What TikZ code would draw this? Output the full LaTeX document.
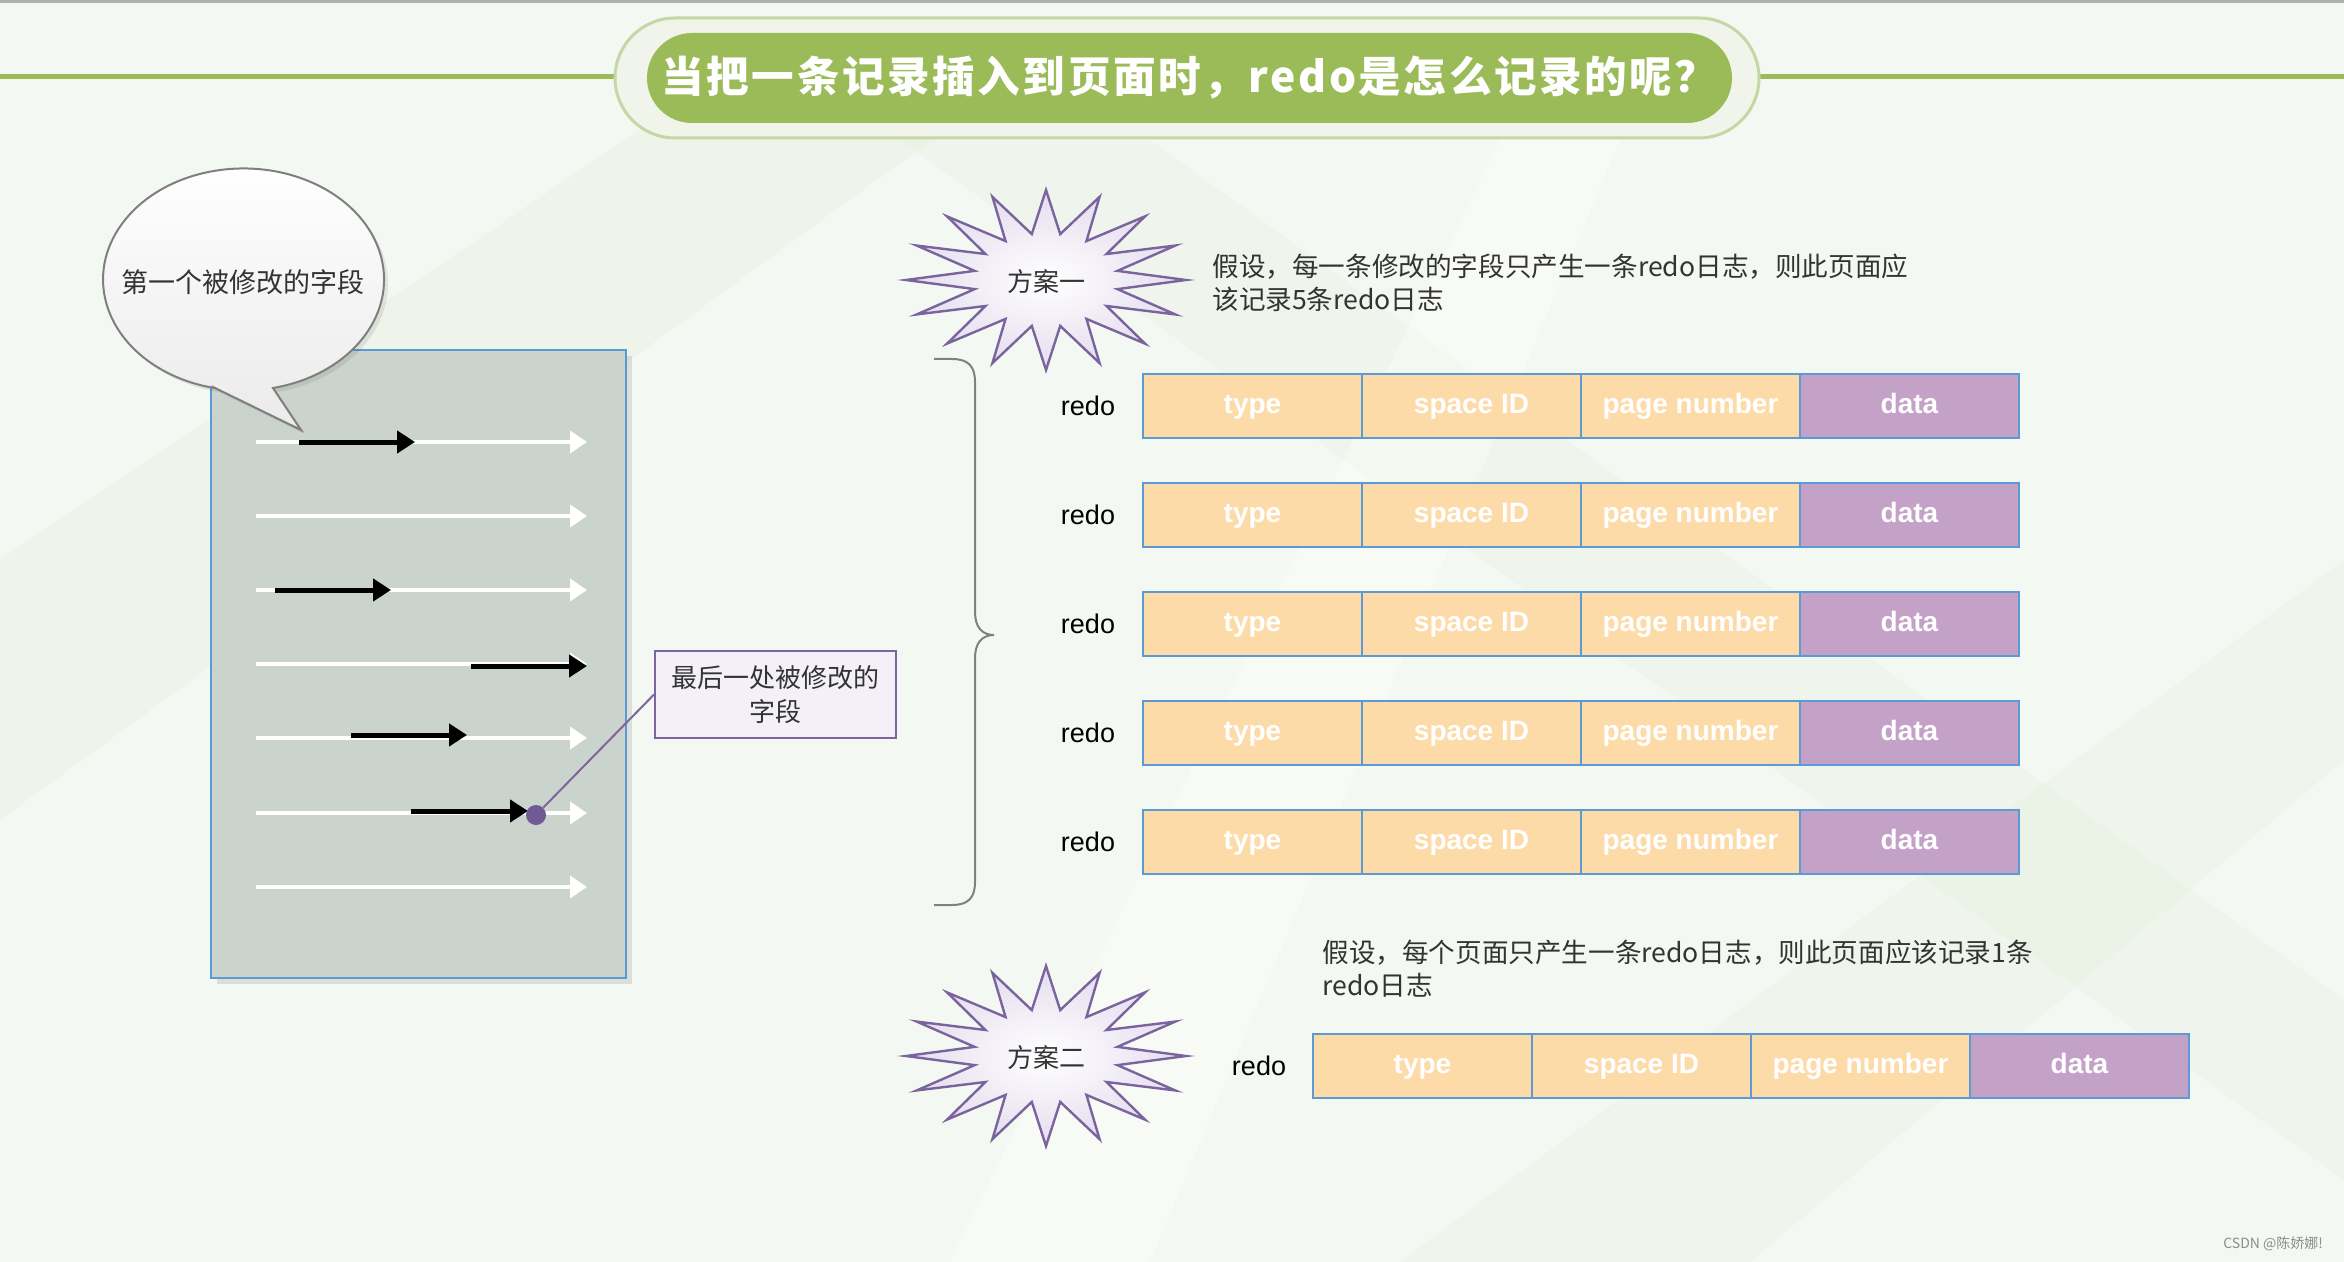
\documentclass[tikz,border=0pt]{standalone}
\usepackage{fontspec}
\setmainfont{Liberation Sans}
\newfontfamily\cjk{Noto Sans CJK SC}
\newfontfamily\cjktitle[LetterSpace=6]{Noto Sans CJK SC}
\usetikzlibrary{arrows.meta}
\definecolor{bgc}{HTML}{F4F8F2}
\definecolor{streakc}{HTML}{E4EEDD}
\definecolor{titlegreen}{HTML}{9BBB59}
\definecolor{capfill}{HTML}{F1F4EA}
\definecolor{capline}{HTML}{C4D7A4}
\definecolor{pagefill}{HTML}{CAD4CC}
\definecolor{cellblue}{HTML}{5B9BD5}
\definecolor{cellorange}{HTML}{FDDBA9}
\definecolor{cellpurple}{HTML}{C4A2C7}
\definecolor{starline}{HTML}{7B649E}
\definecolor{starfill}{HTML}{E4DDEE}
\definecolor{calloutfill}{HTML}{F3F0F7}
\definecolor{calloutline}{HTML}{8064A2}
\definecolor{dotc}{HTML}{6F5A94}
\definecolor{bubbleline}{HTML}{7F7F7F}
\definecolor{textc}{HTML}{333333}
\definecolor{bracec}{HTML}{808080}
\definecolor{topgray}{HTML}{B0B0B0}
\begin{document}
\begin{tikzpicture}[x=0.5pt,y=-0.5pt,
  cjktext/.style={font=\cjk\fontsize{13}{16.5}\selectfont, text=textc},
  desctext/.style={font=\cjk\fontsize{13.3}{16.5}\selectfont, text=textc},
  cell/.style={draw=cellblue, line width=1.4pt, minimum width=109.5pt, minimum height=32pt,
    inner sep=0pt, outer sep=0pt, text=white, text height=10pt, text depth=2.5pt,
    font=\bfseries\fontsize{14}{16}\selectfont, anchor=west},
  ocell/.style={cell, fill=cellorange},
  pcell/.style={cell, fill=cellpurple},
  redolab/.style={font=\fontsize{13.5}{16}\selectfont, text=black},
  whitearrow/.style={draw=white, line width=2pt, -{Triangle[width=11pt,length=8.5pt]}},
  blackarrow/.style={draw=black, line width=2.5pt, -{Triangle[width=11pt,length=9pt]}},
  starshape/.style={draw=starline, line width=1.2pt, inner color=white, outer color=starfill},
  callout/.style={draw=calloutline, line width=1pt, fill=calloutfill, minimum width=120.5pt,
    minimum height=43.5pt, align=center, font=\cjk\fontsize{13}{17}\selectfont, text=textc, inner sep=2pt}
]
\useasboundingbox (0,0) rectangle (2344,1262);
% background
\fill[bgc] (0,0) rectangle (2344,1262);
\fill[streakc, opacity=0.35] (0,820) -- (0,560) -- (700,90) -- (1000,90) -- cycle;
\fill[streakc, opacity=0.28] (900,140) -- (1150,140) -- (2344,1000) -- (2344,1180) -- cycle;
\fill[streakc, opacity=0.28] (1400,1262) -- (2344,560) -- (2344,760) -- (1750,1262) -- cycle;
\fill[white, opacity=0.3] (950,1262) -- (1500,140) -- (1620,140) -- (1150,1262) -- cycle;
\draw[topgray, line width=1.5pt] (0,1.5) -- (2344,1.5);
\draw[titlegreen, line width=2.5pt] (0,77) -- (2344,77);
% title
\node[draw=capline, line width=1.5pt, fill=capfill, minimum width=572pt, minimum height=60pt,
  rounded corners=30pt, inner sep=0pt] (titleouter) at (1187,78) {};
\node[fill=titlegreen, minimum width=542.5pt, minimum height=45pt, rounded corners=22.5pt,
  text=white, font=\cjktitle\bfseries\fontsize{21.3}{26}\selectfont, inner sep=0pt] (title) at (1189.5,78)
  {当把一条记录插入到页面时，redo是怎么记录的呢？};
% page rectangle
\fill[black, opacity=0.10] (217,356) rectangle (632,984);
\node[draw=cellblue, line width=1pt, fill=pagefill, minimum width=207.5pt, minimum height=314pt,
  inner sep=0pt] (page) at (418.5,664) {};
% white arrows
\foreach \i/\y in {1/442,2/516,3/590,4/664,5/738,6/813,7/887}{
  \coordinate (wl\i) at (256,\y);
  \coordinate (wr\i) at (587,\y);
  \draw[whitearrow] (wl\i) -- (wr\i);
}
% black arrows
\coordinate (bl1) at (299,442); \coordinate (br1) at (415,442);
\coordinate (bl3) at (275,590); \coordinate (br3) at (391,590);
\coordinate (bl4) at (471,666); \coordinate (br4) at (587,666);
\coordinate (bl5) at (351,735); \coordinate (br5) at (467,735);
\coordinate (bl6) at (411,811); \coordinate (br6) at (528,811);
\foreach \i in {1,3,4,5,6}{ \draw[blackarrow] (bl\i) -- (br\i); }
% speech bubble
\fill[black, opacity=0.08] (217,391) -- (305,434) -- (277,392)
  arc[start angle=77.9, end angle=-257.5, x radius=140.5, y radius=111] -- cycle;
\draw[bubbleline, line width=1pt, top color=white, bottom color=black!8]
  (213,387) -- (301,430) -- (273,388)
  arc[start angle=77.9, end angle=-257.5, x radius=140.5, y radius=111] -- cycle;
\node[font=\cjk\fontsize{13.5}{16}\selectfont, text=textc] (firstfield) at (243,282) {第一个被修改的字段};
% callout
\node[callout] (lastfield) at (775.5,694.5) {最后一处被修改的\\字段};
\node[circle, fill=dotc, minimum size=10pt, inner sep=0pt] (lastdot) at (536,815) {};
\draw[calloutline, line width=1pt] (lastdot) -- (lastfield.west);
% stars
\path[starshape] plot[samples at={0,...,31}, variable=\k]
  ({1046+(1-0.48*mod(\k,2))*140*cos(\k*11.25)}, {280+(1-0.48*mod(\k,2))*90*sin(\k*11.25)}) -- cycle;
\node[cjktext] (plan1) at (1046,282) {方案一};
\path[starshape] plot[samples at={0,...,31}, variable=\k]
  ({1046+(1-0.48*mod(\k,2))*140*cos(\k*11.25)}, {1056+(1-0.48*mod(\k,2))*90*sin(\k*11.25)}) -- cycle;
\node[cjktext] (plan2) at (1046,1058) {方案二};
% descriptions
\node[desctext, anchor=west, align=left, inner sep=0pt] (desc1) at (1212,283)
  {假设，每一条修改的字段只产生一条redo日志，则此页面应\\该记录5条redo日志};
\node[desctext, anchor=west, align=left, inner sep=0pt] (desc2) at (1322,969)
  {假设，每个页面只产生一条redo日志，则此页面应该记录1条\\redo日志};
% brace
\draw[bracec, line width=1pt] (934,359) -- (952,359) .. controls (968,359) and (975,366) .. (975,382)
  -- (975,612) .. controls (975,627) and (982,635) .. (994,635)
  .. controls (982,635) and (975,643) .. (975,658) -- (975,882)
  .. controls (975,898) and (968,905) .. (952,905) -- (934,905);
% rows
\foreach \i/\y in {1/406,2/515,3/624,4/733,5/842}{
  \node[redolab] (redo\i) at (1088,\y) {redo};
  \node[ocell] (type\i) at (1143,\y) {type};
  \node[ocell] (space\i) at (type\i.east) {space ID};
  \node[ocell] (pagenum\i) at (space\i.east) {page number};
  \node[pcell] (data\i) at (pagenum\i.east) {data};
}
\node[redolab] (redo6) at (1259,1066) {redo};
\node[ocell] (type6) at (1313,1066) {type};
\node[ocell] (space6) at (type6.east) {space ID};
\node[ocell] (pagenum6) at (space6.east) {page number};
\node[pcell] (data6) at (pagenum6.east) {data};
% watermark
\node[font=\cjk\fontsize{7}{8}\selectfont, text=black!45, anchor=east] (mark) at (2330,1244) {CSDN @陈娇娜!};
\end{tikzpicture}
\end{document}
